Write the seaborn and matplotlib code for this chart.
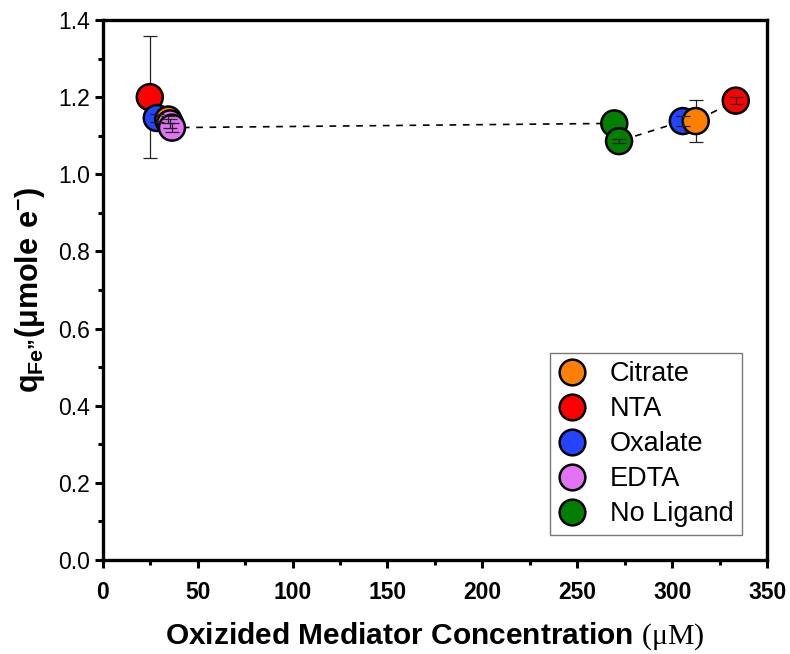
import matplotlib
matplotlib.use("Agg")
import matplotlib.pyplot as plt
from matplotlib.ticker import MultipleLocator
import numpy as np
import pandas as pd
import seaborn as sns

# Measurements: ligand, oxidized mediator concentration (uM), charge (umole e-), error
ligand = ["NTA", "Oxalate", "Citrate", "EDTA", "EDTA",
          "No Ligand", "No Ligand", "Oxalate", "Citrate", "NTA"]
conc = [24.8, 28.5, 34.5, 35.5, 36.5, 269.5, 272.0, 305.6, 312.4, 333.5]
charge = [1.200, 1.146, 1.142, 1.132, 1.121, 1.132, 1.086, 1.138, 1.138, 1.191]
err = [0.158, 0.010, 0.010, 0.012, 0.012, 0.032, 0.006, 0.013, 0.054, 0.010]

legend_order = ["Citrate", "NTA", "Oxalate", "EDTA", "No Ligand"]
colors = {"Citrate": "#FF8000", "NTA": "#FF0000", "Oxalate": "#2444FF",
          "EDTA": "#E273F5", "No Ligand": "#007F00"}

df = pd.DataFrame({"ligand": ligand, "conc": conc, "charge": charge, "err": err})

sns.set_theme(style="ticks")
plt.rcParams["font.family"] = ["Liberation Sans", "DejaVu Sans"]
plt.rcParams["mathtext.fontset"] = "custom"
plt.rcParams["mathtext.rm"] = "Liberation Serif"
plt.rcParams["mathtext.bf"] = "Liberation Sans:bold"
for key in ["text.color", "axes.labelcolor", "xtick.color", "ytick.color",
            "xtick.labelcolor", "ytick.labelcolor"]:
    plt.rcParams[key] = "black"

fig = plt.figure(figsize=(7.9, 6.54), dpi=100)
ax = fig.add_axes([0.130, 0.1437, 0.841, 0.8257])

# dashed guide through all points in order of concentration
sns.lineplot(data=df, x="conc", y="charge", estimator=None, sort=True,
             color="black", lw=1.2, ls=(0, (4, 4)), ax=ax, zorder=1)

big = df["err"] > 0.03
ax.errorbar(df.loc[big, "conc"], df.loc[big, "charge"], yerr=df.loc[big, "err"],
            fmt="none", ecolor="#222222", elinewidth=0.9, capsize=5, capthick=0.9,
            zorder=1.5)

sns.scatterplot(data=df, x="conc", y="charge", hue="ligand", hue_order=legend_order,
                palette=colors, s=350, edgecolor="black", linewidth=1.8,
                ax=ax, zorder=3, legend=True)

ax.errorbar(df.loc[~big, "conc"], df.loc[~big, "charge"], yerr=df.loc[~big, "err"],
            fmt="none", ecolor="#222222", elinewidth=0.9, capsize=5, capthick=0.9,
            zorder=4)

ax.set_xlim(0, 350)
ax.set_ylim(0, 1.4)
ax.xaxis.set_major_locator(MultipleLocator(50))
ax.xaxis.set_minor_locator(MultipleLocator(25))
ax.yaxis.set_major_locator(MultipleLocator(0.2))
ax.yaxis.set_minor_locator(MultipleLocator(0.1))
ax.yaxis.set_major_formatter(matplotlib.ticker.FormatStrFormatter("%.1f"))

for sp in ax.spines.values():
    sp.set_linewidth(2.4)
    sp.set_color("black")
ax.tick_params(which="major", direction="out", length=6, width=2.2, color="black",
               top=False, right=False)
ax.tick_params(which="minor", direction="out", length=3.5, width=2.2, color="black",
               top=False, right=False)
ax.tick_params(axis="y", labelsize=16.5, pad=3)
ax.tick_params(axis="x", labelsize=16.5, pad=9)
for t in ax.get_xticklabels():
    t.set_fontweight("bold")

ax.set_xlabel(r"Oxizided Mediator Concentration $\mathrm{(\mu M)}$",
              fontsize=21.5, fontweight="bold", labelpad=12)
ax.set_ylabel("$\\mathbf{q_{Fe\u201D}(\\mu mole\\ e^{-})}$", fontsize=22, labelpad=8)

leg = ax.legend(loc="lower right", bbox_to_anchor=(0.962, 0.046), borderaxespad=0,
                fontsize=19.5, frameon=True, fancybox=False, edgecolor="#555555",
                handletextpad=0.9, borderpad=0.3, labelspacing=0.33,
                handlelength=1.0, markerscale=1.0)
leg.get_frame().set_linewidth(1.0)
for h in leg.legend_handles:
    h.set_markeredgecolor("black")
    h.set_markeredgewidth(1.8)
    h.set_markersize(18.5)

fig.savefig("out.png", dpi=100, facecolor="white")
